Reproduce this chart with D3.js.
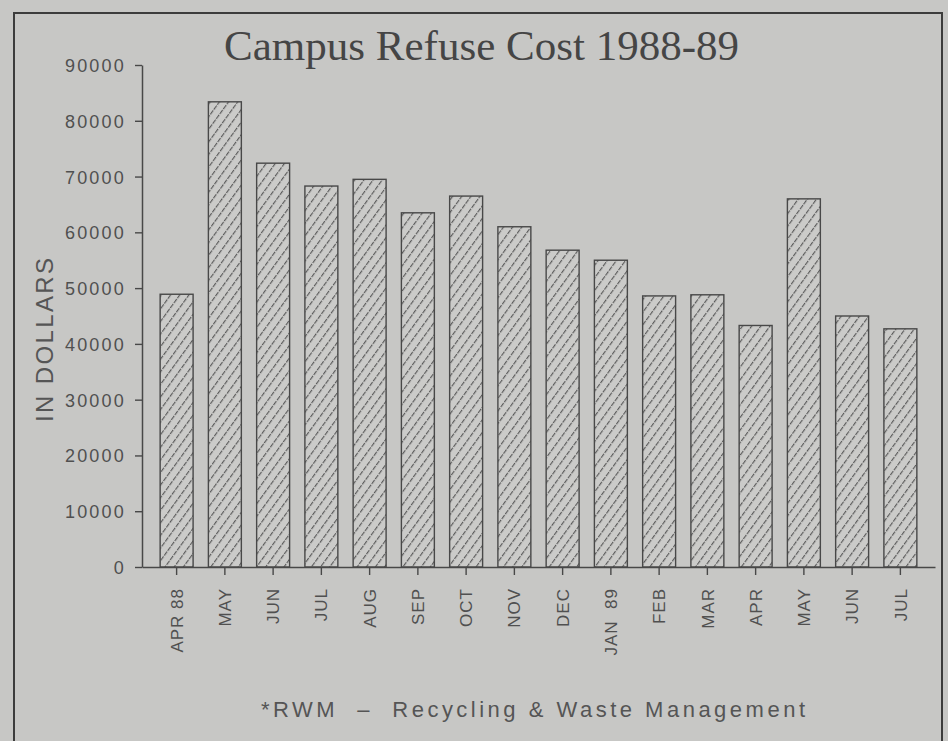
<!DOCTYPE html>
<html>
<head>
<meta charset="utf-8">
<script src="https://cdn.jsdelivr.net/npm/d3@7"></script>
<style>
  body { margin: 0; background: #c7c7c5; }
  svg { display: block; }
  text { white-space: pre; }
</style>
</head>
<body>
<div id="chart"></div>
<script>
// months of the 1988-89 period, as printed under the bars
var months = ["APR 88", "MAY", "JUN", "JUL", "AUG", "SEP", "OCT", "NOV",
              "DEC", "JAN  89", "FEB", "MAR", "APR", "MAY ", "JUN ", "JUL "];
// refuse cost per month in dollars
var costs = [48900, 83400, 72400, 68300, 69500, 63500, 66500, 61000,
             56800, 55000, 48600, 48800, 43300, 66000, 45000, 42700];
var yTicks = [0, 10000, 20000, 30000, 40000, 50000, 60000, 70000, 80000, 90000];

var width = 948;
var height = 741;
var ink = "#484848";

var svg = d3.select("#chart").append("svg")
    .attr("width", width)
    .attr("height", height);

svg.append("rect")
    .attr("width", width).attr("height", height)
    .attr("fill", "#c7c7c5");

// hatch pattern for bars
var defs = svg.append("defs");
var pat = defs.append("pattern")
    .attr("id", "hatch")
    .attr("patternUnits", "userSpaceOnUse")
    .attr("width", 7.4).attr("height", 12)
    .attr("patternTransform", "rotate(36)");
pat.append("rect").attr("width", 7.4).attr("height", 12).attr("fill", "#cbcbc9");
pat.append("line")
    .attr("x1", 0.6).attr("y1", 0).attr("x2", 0.6).attr("y2", 12)
    .attr("stroke", "#555").attr("stroke-width", 1.1)
    .attr("stroke-dasharray", "5,1");

// frame round the page
svg.append("rect")
    .attr("x", 14).attr("y", 13)
    .attr("width", 928).attr("height", 780)
    .attr("fill", "none")
    .attr("stroke", "#3c3c3c")
    .attr("stroke-width", 2);

var x = d3.scaleBand()
    .domain(months)
    .range([142, 935])
    .paddingInner(0.317)
    .paddingOuter(0.376);

var y = d3.scaleLinear()
    .domain([0, 90000])
    .range([567, 65]);

svg.selectAll("rect.bar")
    .data(costs)
    .enter()
    .append("rect")
    .attr("class", "bar")
    .attr("x", function(d, i) { return x(months[i]); })
    .attr("y", function(d) { return y(d); })
    .attr("width", x.bandwidth())
    .attr("height", function(d) { return y(0) - y(d); })
    .attr("fill", "url(#hatch)")
    .attr("stroke", ink)
    .attr("stroke-width", 1.4);

// y axis
var yAxis = svg.append("g")
    .attr("transform", "translate(142,0)")
    .call(d3.axisLeft(y)
        .tickValues(yTicks)
        .tickFormat(d3.format("d"))
        .tickSize(7)
        .tickSizeOuter(0)
        .tickPadding(9));
yAxis.select(".domain").attr("stroke", ink).attr("stroke-width", 1.5);
yAxis.selectAll(".tick line").attr("stroke", ink).attr("stroke-width", 1.4);
yAxis.selectAll(".tick text")
    .attr("fill", "#505050")
    .style("font-family", "Liberation Sans")
    .style("font-size", "18px")
    .style("letter-spacing", "2.2px")
    .attr("dy", "0.36em");

// x axis
var xAxis = svg.append("g")
    .attr("transform", "translate(0,567)")
    .call(d3.axisBottom(x)
        .tickSize(8)
        .tickSizeOuter(0));
xAxis.select(".domain").attr("stroke", ink).attr("stroke-width", 1.5);
xAxis.selectAll(".tick line").attr("stroke", ink).attr("stroke-width", 1.4);
xAxis.selectAll(".tick text")
    .text(function(d) { return d.trim(); })
    .attr("fill", "#505050")
    .style("font-family", "Liberation Sans")
    .style("font-size", "17px")
    .style("letter-spacing", "1px")
    .attr("text-anchor", "end")
    .attr("transform", "rotate(-90)")
    .attr("x", -21)
    .attr("y", 0)
    .attr("dy", "0.36em");

// y axis title
svg.append("text")
    .attr("transform", "translate(53,340) rotate(-90)")
    .attr("text-anchor", "middle")
    .attr("fill", "#555")
    .style("font-family", "Liberation Sans")
    .style("font-size", "24px")
    .attr("textLength", 164)
    .attr("lengthAdjust", "spacing")
    .text("IN DOLLARS");

// title
svg.append("text")
    .attr("x", 224).attr("y", 60)
    .attr("fill", "#454545")
    .style("font-family", "Liberation Serif")
    .style("font-size", "43px")
    .attr("textLength", 515)
    .attr("lengthAdjust", "spacing")
    .text("Campus Refuse Cost 1988-89");

// footnote
svg.append("text")
    .attr("x", 261).attr("y", 717)
    .attr("fill", "#555")
    .style("font-family", "Liberation Sans")
    .style("font-size", "22px")
    .attr("textLength", 544)
    .attr("lengthAdjust", "spacing")
    .text("*RWM  \u2013  Recycling & Waste Management");
</script>
</body>
</html>
